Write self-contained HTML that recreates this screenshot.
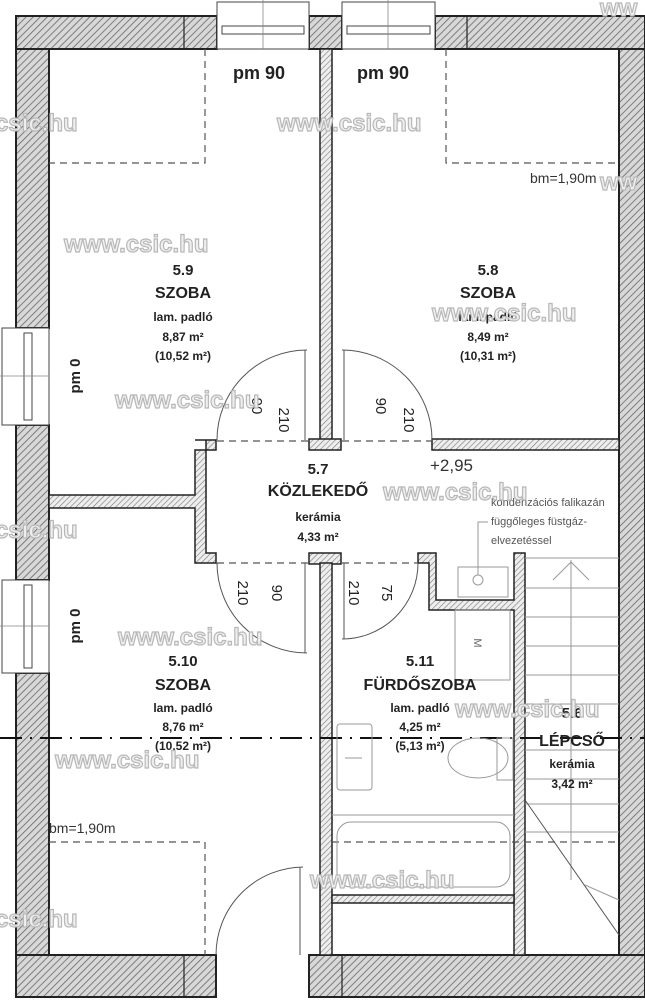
<!DOCTYPE html>
<html><head><meta charset="utf-8"><style>
html,body{margin:0;padding:0;background:#fff}
svg{display:block}
text{font-family:"Liberation Sans",sans-serif}
.wm{font-size:24px;font-weight:bold;fill:#efefef;stroke:#b8b8b8;stroke-width:1.2}
</style></head><body>
<svg width="645" height="1000" viewBox="0 0 645 1000" xmlns="http://www.w3.org/2000/svg">
<defs>
<pattern id="h" patternUnits="userSpaceOnUse" width="5" height="5" patternTransform="rotate(45)">
<rect width="5" height="5" fill="#d8d8d8"/><line x1="0" y1="0" x2="0" y2="5" stroke="#666" stroke-width="1.6"/></pattern>
<pattern id="h2" patternUnits="userSpaceOnUse" width="4" height="4" patternTransform="rotate(45)">
<rect width="4" height="4" fill="#eee"/><line x1="0" y1="0" x2="0" y2="4" stroke="#777" stroke-width="1.2"/></pattern>
</defs>
<rect width="645" height="1000" fill="#fff"/>
<g stroke="#222" stroke-width="2" fill="url(#h)">
<!-- top wall -->
<rect x="16" y="16" width="201" height="33"/>
<rect x="309" y="16" width="33" height="33"/>
<rect x="435" y="16" width="210" height="33"/>
<!-- left wall -->
<rect x="16" y="49" width="33" height="279"/>
<rect x="16" y="425" width="33" height="155"/>
<rect x="16" y="673" width="33" height="282"/>
<!-- right wall -->
<rect x="619" y="49" width="26" height="906"/>
<!-- bottom wall -->
<rect x="16" y="955" width="200" height="42"/>
<rect x="309" y="955" width="336" height="42"/>
</g>
<g stroke="#222" stroke-width="1.2">
<line x1="184" y1="16" x2="184" y2="49"/><line x1="467" y1="16" x2="467" y2="49"/>
<line x1="184" y1="955" x2="184" y2="997"/><line x1="342" y1="955" x2="342" y2="997"/>
</g>
<g stroke="#222" stroke-width="1.5" fill="url(#h2)">
<rect x="320" y="49" width="12" height="391"/>
<rect x="309" y="439" width="32" height="11"/>
<rect x="432" y="439" width="187" height="11"/>
<path d="M49 495 H195 V450 H216 V440 H195 V440 H206 V553 H216 V563 H195 V508 H49 Z"/>
<rect x="309" y="553" width="32" height="11"/>
<rect x="320" y="563" width="12" height="392"/>
<path d="M418 553 H436 V600 H514 V553 H525 V955 H514 V610 H429 V563 H418 Z"/>
<rect x="332" y="895" width="182" height="8"/>
</g>
<!-- windows -->
<g stroke="#444" stroke-width="1" fill="#fff">
<rect x="217" y="2" width="92" height="47"/><rect x="342" y="2" width="93" height="47"/>
<rect x="222" y="26" width="82" height="8"/><rect x="347" y="26" width="83" height="8"/>
<rect x="2" y="328" width="47" height="97"/><rect x="2" y="580" width="47" height="93"/>
<rect x="24" y="333" width="8" height="87"/><rect x="24" y="585" width="8" height="83"/>
</g>
<g stroke="#888" stroke-width="0.8">
<line x1="263" y1="0" x2="263" y2="49"/><line x1="388" y1="0" x2="388" y2="49"/>
<line x1="0" y1="376" x2="49" y2="376"/><line x1="0" y1="626" x2="49" y2="626"/>
</g>
<!-- dashed -->
<g stroke="#555" stroke-width="1.2" stroke-dasharray="7,5" fill="none">
<path d="M205 49 V163 H49"/><path d="M446 49 V163 H619"/>
<path d="M49 842 H205 V955"/><path d="M332 842 H619"/>
<line x1="217" y1="441" x2="308" y2="441"/><line x1="342" y1="441" x2="432" y2="441"/>
<line x1="217" y1="563" x2="308" y2="563"/><line x1="342" y1="563" x2="418" y2="563"/>
</g>
<path d="M0 738 H645" stroke="#111" stroke-width="2" stroke-dasharray="22,8,2,8" fill="none"/>
<!-- doors -->
<g stroke="#555" stroke-width="1" fill="none">
<path d="M217 440 A90 90 0 0 1 307 350"/><line x1="305" y1="350" x2="305" y2="440"/>
<path d="M432 440 A90 90 0 0 0 342 350"/><line x1="344" y1="350" x2="344" y2="440"/>
<path d="M217 563 A90 90 0 0 0 307 653"/><line x1="305" y1="563" x2="305" y2="653"/>
<path d="M418 563 A76 76 0 0 1 342 639"/><line x1="344" y1="563" x2="344" y2="639"/>
<path d="M216 955 A88 88 0 0 1 303 867"/><line x1="300" y1="867" x2="300" y2="955"/>
</g>
<!-- stairs -->
<g stroke="#999" stroke-width="1" fill="none">
<line x1="525" y1="558" x2="619" y2="558"/><line x1="525" y1="588" x2="619" y2="588"/>
<line x1="525" y1="617" x2="619" y2="617"/><line x1="525" y1="646" x2="619" y2="646"/>
<line x1="525" y1="675" x2="619" y2="675"/><line x1="525" y1="704" x2="619" y2="704"/>
<line x1="525" y1="750" x2="619" y2="750"/><line x1="525" y1="779" x2="619" y2="779"/>
<line x1="525" y1="804" x2="619" y2="804"/><line x1="525" y1="832" x2="619" y2="832"/>
<line x1="571" y1="560" x2="571" y2="880"/>
<path d="M553 580 L571 562 L589 580"/>
<line x1="525" y1="800" x2="619" y2="935" stroke="#555"/>
<path d="M585 885 L619 900"/>
<!-- bathroom fixtures -->
<rect x="337" y="724" width="35" height="66" rx="3"/>
<line x1="345" y1="758" x2="362" y2="758"/>
<rect x="337" y="822" width="173" height="65" rx="14"/>
<line x1="332" y1="815" x2="514" y2="815"/>
<ellipse cx="478" cy="758" rx="30" ry="20"/>
<rect x="497" y="738" width="16" height="42"/>
<rect x="455" y="610" width="55" height="70"/>
<rect x="458" y="567" width="50" height="30"/>
<circle cx="478" cy="580" r="5"/>
<path d="M478 575 V522 H488"/>
</g>
<text x="474" y="643" font-size="11" fill="#666" transform="rotate(90 474 643)" text-anchor="middle">M</text>
<!-- door labels -->
<g font-size="15" fill="#222" text-anchor="middle">
<text transform="translate(252,406) rotate(90)">90</text>
<text transform="translate(279,420) rotate(90)">210</text>
<text transform="translate(376,406) rotate(90)">90</text>
<text transform="translate(404,420) rotate(90)">210</text>
<text transform="translate(238,593) rotate(90)">210</text>
<text transform="translate(272,593) rotate(90)">90</text>
<text transform="translate(349,593) rotate(90)">210</text>
<text transform="translate(382,593) rotate(90)">75</text>
<text transform="translate(80,376) rotate(-90)" font-weight="bold">pm 0</text>
<text transform="translate(80,626) rotate(-90)" font-weight="bold">pm 0</text>
</g>
<g font-size="18" fill="#222" font-weight="bold">
<text x="233" y="79">pm 90</text><text x="357" y="79">pm 90</text>
</g>
<g font-size="14" fill="#333">
<text x="530" y="183">bm=1,90m</text><text x="49" y="833">bm=1,90m</text>
<text x="430" y="471" font-size="17">+2,95</text>
</g>
<g font-size="11" fill="#555">
<text x="491" y="506">kondenzációs falikazán</text>
<text x="491" y="525">függőleges füstgáz-</text>
<text x="491" y="544">elvezetéssel</text>
</g>
<g fill="#222" text-anchor="middle" font-weight="bold">
<g font-size="15"><text x="183" y="275">5.9</text><text x="488" y="275">5.8</text><text x="318" y="474">5.7</text><text x="183" y="666">5.10</text><text x="420" y="666">5.11</text><text x="572" y="718">5.6</text></g>
<g font-size="16"><text x="183" y="298">SZOBA</text><text x="488" y="298">SZOBA</text><text x="318" y="496">KÖZLEKEDŐ</text><text x="183" y="690">SZOBA</text><text x="420" y="690">FÜRDŐSZOBA</text><text x="572" y="746">LÉPCSŐ</text></g>
<g font-size="12"><text x="183" y="321">lam. padló</text><text x="183" y="341">8,87 m²</text><text x="183" y="360">(10,52 m²)</text>
<text x="488" y="321">lam. padló</text><text x="488" y="341">8,49 m²</text><text x="488" y="360">(10,31 m²)</text>
<text x="318" y="521">kerámia</text><text x="318" y="541">4,33 m²</text>
<text x="183" y="712">lam. padló</text><text x="183" y="731">8,76 m²</text><text x="183" y="750">(10,52 m²)</text>
<text x="420" y="712">lam. padló</text><text x="420" y="731">4,25 m²</text><text x="420" y="750">(5,13 m²)</text>
<text x="572" y="768">kerámia</text><text x="572" y="788">3,42 m²</text></g>
</g>
<!-- watermarks -->
<g class="wm">
<text x="-5" y="131">csic.hu</text><text x="277" y="131">www.csic.hu</text>
<text x="64" y="252">www.csic.hu</text><text x="432" y="321">www.csic.hu</text>
<text x="115" y="408">www.csic.hu</text><text x="383" y="500">www.csic.hu</text>
<text x="-5" y="538">csic.hu</text><text x="118" y="645">www.csic.hu</text>
<text x="455" y="717">www.csic.hu</text><text x="55" y="768">www.csic.hu</text>
<text x="310" y="888">www.csic.hu</text><text x="-5" y="927">csic.hu</text>
<text x="600" y="190">ww</text><text x="600" y="16">ww</text>
</g>
</svg>
</body></html>
